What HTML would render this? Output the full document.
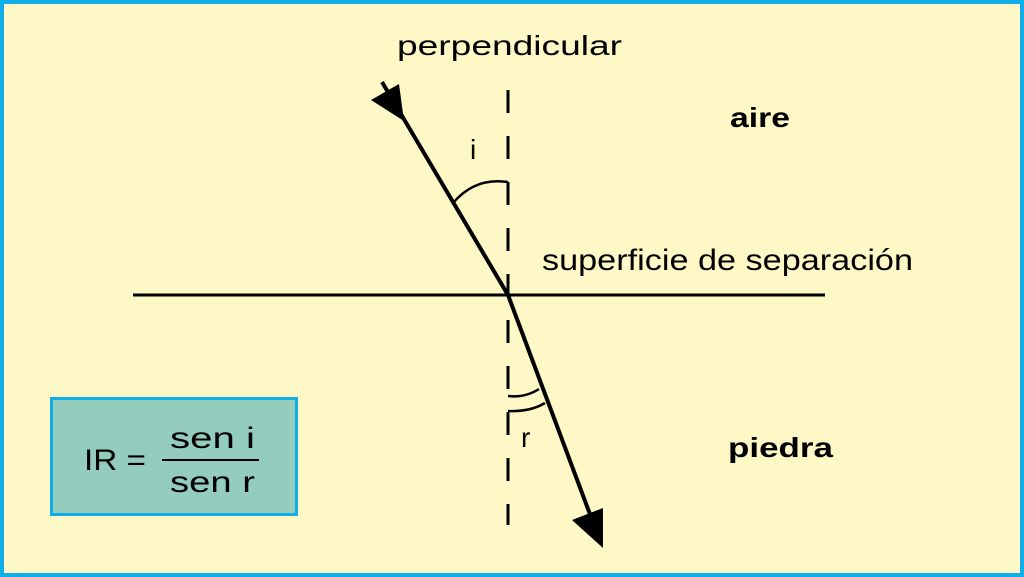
<!DOCTYPE html>
<html><head><style>html,body{margin:0;padding:0;}svg{display:block;}</style></head>
<body>
<svg width="1024" height="577" viewBox="0 0 1024 577" xmlns="http://www.w3.org/2000/svg" font-family="Liberation Sans, sans-serif">
<rect x="2" y="2" width="1020" height="573" fill="#fdf8c6" stroke="#10aee8" stroke-width="4"/>
<line x1="133" y1="295" x2="825" y2="295" stroke="#000" stroke-width="3"/>
<line x1="508" y1="90" x2="508" y2="525" stroke="#000" stroke-width="3" stroke-dasharray="23,23"/>
<line x1="382" y1="82" x2="508" y2="295" stroke="#000" stroke-width="4"/>
<polygon points="371,100 399,84 404,121" fill="#000"/>
<line x1="508" y1="295" x2="594" y2="525" stroke="#000" stroke-width="4"/>
<polygon points="572,520 603,508 603,548" fill="#000"/>
<path d="M453,203 Q475,177 508,182" fill="none" stroke="#000" stroke-width="2.5"/>
<path d="M508,396 Q525,398 539,389" fill="none" stroke="#000" stroke-width="2.5"/>
<path d="M508,411 Q530,412 545,403" fill="none" stroke="#000" stroke-width="2.5"/>
<text x="397" y="55" font-size="28" textLength="225" lengthAdjust="spacingAndGlyphs">perpendicular</text>
<text x="470" y="159" font-size="28">i</text>
<text x="521" y="447" font-size="28">r</text>
<text x="542" y="270" font-size="30" textLength="371" lengthAdjust="spacingAndGlyphs">superficie de separación</text>
<text x="730" y="127" font-size="28" font-weight="bold" textLength="60" lengthAdjust="spacingAndGlyphs">aire</text>
<text x="728" y="457" font-size="28" font-weight="bold" textLength="105" lengthAdjust="spacingAndGlyphs">piedra</text>
<rect x="51.5" y="398.5" width="245" height="116" fill="#94ccbe" stroke="#10aee8" stroke-width="3"/>
<text x="84" y="470" font-size="30" textLength="62" lengthAdjust="spacingAndGlyphs">IR =</text>
<text x="170" y="448" font-size="30" textLength="85" lengthAdjust="spacingAndGlyphs">sen i</text>
<line x1="162" y1="460" x2="259" y2="460" stroke="#000" stroke-width="2"/>
<text x="170" y="492" font-size="30" textLength="85" lengthAdjust="spacingAndGlyphs">sen r</text>
</svg>
</body></html>
